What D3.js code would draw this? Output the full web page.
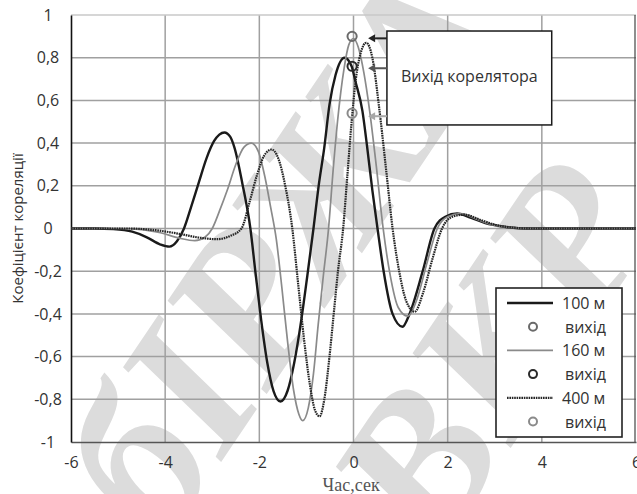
<!DOCTYPE html>
<html>
<head>
<meta charset="utf-8">
<script src="https://cdn.jsdelivr.net/npm/d3@7"></script>
<style>
  body { margin: 0; background: #fff; }
  svg { display: block; }
</style>
</head>
<body>
<svg id="chart" width="637" height="494"></svg>
<script>
// Correlation coefficient vs time lag, three ranges
const time100 = [-6,-5.5,-5.1,-4.7,-4.4,-4.1,-3.91,-3.75,-3.6,-3.45,-3.28,-3.12,-2.96,-2.85,-2.74,-2.62,-2.53,-2.36,-2.19,-2.08,-1.96,-1.83,-1.7,-1.55,-1.4,-1.26,-1.11,-0.98,-0.85,-0.74,-0.62,-0.51,-0.38,-0.19,-0.04,0.04,0.19,0.28,0.4,0.51,0.64,0.83,1.04,1.19,1.47,1.72,1.95,2.2,2.5,2.8,3.2,3.7,6];
const corr100 = [0,0,-0.003,-0.015,-0.04,-0.075,-0.085,-0.06,0,0.1,0.22,0.33,0.41,0.44,0.45,0.43,0.38,0.21,0,-0.21,-0.43,-0.63,-0.76,-0.81,-0.76,-0.63,-0.43,-0.22,0,0.2,0.38,0.58,0.72,0.8,0.76,0.69,0.55,0.4,0.18,0,-0.2,-0.4,-0.46,-0.4,-0.2,0,0.055,0.07,0.05,0.025,0.008,0,0];

const time160 = [-6,-5,-4.5,-4.1,-3.7,-3.37,-3.15,-3.0,-2.85,-2.68,-2.5,-2.33,-2.17,-2.02,-1.88,-1.76,-1.64,-1.52,-1.4,-1.27,-1.16,-1.08,-0.96,-0.85,-0.75,-0.64,-0.53,-0.43,-0.34,-0.2,-0.1,0,0.1,0.22,0.34,0.48,0.63,0.78,0.95,1.15,1.35,1.55,1.78,2.0,2.28,2.6,2.9,3.3,3.75,6];
const corr160 = [0,0,-0.005,-0.02,-0.045,-0.057,-0.04,0,0.08,0.18,0.3,0.38,0.4,0.36,0.24,0.1,-0.05,-0.28,-0.53,-0.76,-0.87,-0.9,-0.84,-0.68,-0.45,-0.22,0,0.28,0.5,0.75,0.86,0.89,0.85,0.73,0.556,0.3,0,-0.22,-0.37,-0.41,-0.33,-0.17,0,0.055,0.07,0.045,0.02,0.005,0,0];

const time400 = [-6,-4.8,-4.2,-3.7,-3.3,-2.9,-2.62,-2.38,-2.2,-2.05,-1.9,-1.74,-1.6,-1.45,-1.3,-1.18,-1.05,-0.92,-0.82,-0.72,-0.62,-0.51,-0.42,-0.33,-0.22,-0.13,-0.04,0.05,0.15,0.27,0.4,0.55,0.7,0.83,0.97,1.12,1.3,1.48,1.68,1.88,2.1,2.35,2.7,3.0,3.4,3.8,6];
const corr400 = [0,0,-0.008,-0.025,-0.042,-0.05,-0.035,0,0.13,0.25,0.34,0.37,0.33,0.2,0,-0.25,-0.52,-0.74,-0.85,-0.88,-0.8,-0.6,-0.4,-0.2,0,0.25,0.5,0.7,0.82,0.87,0.8,0.556,0.26,0,-0.2,-0.34,-0.39,-0.3,-0.14,0,0.055,0.065,0.04,0.018,0.004,0,0];

// correlator output at zero lag
const outputTime = [-0.03, -0.03, -0.03];
const outputValue = [0.9, 0.76, 0.54];

const seriesNames = ["100 м", "160 м", "400 м"];
const outputName = "вихід";
const xTicks = [-6, -4, -2, 0, 2, 4, 6];
const yTicks = [-1, -0.8, -0.6, -0.4, -0.2, 0, 0.2, 0.4, 0.6, 0.8, 1];
const xTitle = "Час,сек";
const yTitle = "Коефіцієнт кореляції";
const noteText = "Вихід корелятора";
const watermark = ["бІРЖА", "ВКР"];

const svg = d3.select("#chart");
const x = d3.scaleLinear().domain([-6, 6]).range([71, 636]);
const y = d3.scaleLinear().domain([-1, 1]).range([442, 15]);

const sans = "'Open Sans', 'Liberation Sans', sans-serif";
const serif = "'Liberation Serif', 'DejaVu Serif', serif";

// faint background lettering
const wm = svg.append("g").attr("fill", "#dcdcdc")
  .attr("font-family", serif).attr("font-style", "italic").attr("font-weight", "bold")
  .attr("font-size", 205);
wm.append("text").attr("transform", "translate(165,545) rotate(-56)").text(watermark[0]);
wm.append("text").attr("transform", "translate(435,560) rotate(-56)").text(watermark[1]);

// grid
const grid = svg.append("g").attr("stroke", "#a0a0a0").attr("stroke-width", 1.5);
grid.selectAll("line.v").data(xTicks.filter(d => d > -6 && d < 6)).join("line")
  .attr("x1", d => x(d)).attr("x2", d => x(d)).attr("y1", y(1)).attr("y2", y(-1));
grid.selectAll("line.h").data(yTicks.filter(d => d > -1)).join("line")
  .attr("x1", x(-6)).attr("x2", x(6)).attr("y1", d => y(d)).attr("y2", d => y(d))
  .attr("stroke", d => d === 1 ? "#c8c8c8" : null);

// axes
const xAxis = d3.axisBottom(x).tickValues(xTicks).tickSize(0).tickPadding(15)
  .tickFormat(d => d3.format("d")(d).replace("−", "-"));
const gx = svg.append("g").attr("transform", `translate(0,${y(-1)})`).call(xAxis);
gx.select(".domain").attr("stroke", "#555").attr("stroke-width", 1.5);
gx.selectAll("text").attr("font-family", sans).attr("font-size", 16).attr("fill", "#333");

const yAxis = d3.axisLeft(y).tickValues(yTicks).tickSize(0).tickPadding(0)
  .tickFormat(d => d3.format("~g")(d).replace("−", "-").replace(".", ","));
const gy = svg.append("g").attr("transform", `translate(${x(-6)},0)`).call(yAxis);
gy.select(".domain").attr("stroke", "#111").attr("stroke-width", 1.6);
gy.selectAll("text").attr("font-family", sans).attr("font-size", 16).attr("fill", "#333")
  .attr("text-anchor", "middle").attr("x", -23);

// right frame
svg.append("line").attr("x1", x(6) - 1).attr("x2", x(6) - 1).attr("y1", y(1)).attr("y2", y(-1))
  .attr("stroke", "#444").attr("stroke-width", 1.2);

// titles
svg.append("text").attr("transform", `translate(23,${y(0)}) rotate(-90)`)
  .attr("text-anchor", "middle").attr("font-family", sans).attr("font-size", 15)
  .attr("fill", "#333").text(yTitle);
svg.append("text").attr("x", x(-0.05)).attr("y", 491).attr("text-anchor", "middle")
  .attr("font-family", serif).attr("font-size", 18).attr("fill", "#555").text(xTitle);

// curves
const line = d3.line().x(d => x(d[0])).y(d => y(d[1])).curve(d3.curveMonotoneX);
const seriesData = [
  d3.zip(time100, corr100),
  d3.zip(time160, corr160),
  d3.zip(time400, corr400)
];
const lineStyle = [
  { stroke: "#1a1a1a", width: 2.4, dash: null },
  { stroke: "#8a8a8a", width: 1.7, dash: null },
  { stroke: "#262626", width: 2.2, dash: "1.6,0.8" }
];
const circleColor = ["#6a6a6a", "#2a2a2a", "#8a8a8a"];
const arrowColor = ["#222", "#555", "#a8a8a8"];

svg.append("g").selectAll("path").data(seriesData).join("path")
  .attr("d", line).attr("fill", "none")
  .attr("stroke", (d, i) => lineStyle[i].stroke)
  .attr("stroke-width", (d, i) => lineStyle[i].width)
  .attr("stroke-dasharray", (d, i) => lineStyle[i].dash);

// correlator output markers
svg.append("g").selectAll("circle").data(outputValue).join("circle")
  .attr("cx", (d, i) => x(outputTime[i])).attr("cy", d => y(d)).attr("r", 4.6)
  .attr("fill", "none").attr("stroke", (d, i) => circleColor[i]).attr("stroke-width", 2);

// note box with arrows
const boxL = x(0.71), boxR = x(4.21), boxT = y(0.925), boxB = y(0.485);
svg.append("rect").attr("x", boxL).attr("y", boxT).attr("width", boxR - boxL).attr("height", boxB - boxT)
  .attr("fill", "#fff").attr("stroke", "#1a1a1a").attr("stroke-width", 1.5);
svg.append("text").attr("x", (boxL + boxR) / 2).attr("y", y(0.715) + 6).attr("text-anchor", "middle")
  .attr("font-family", sans).attr("font-size", 16).attr("fill", "#333").text(noteText);

const arrows = svg.append("g");
outputValue.forEach((v, i) => {
  const yy = y(v) + (i === 2 ? 3 : 2);
  const tip = x(0.31);
  arrows.append("line").attr("x1", boxL).attr("x2", tip + 4).attr("y1", yy).attr("y2", yy)
    .attr("stroke", arrowColor[i]).attr("stroke-width", 2);
  arrows.append("path").attr("d", `M${tip},${yy} l7,-4 l0,8 z`).attr("fill", arrowColor[i]);
});

// legend
const lg = svg.append("g");
const lgL = 496, lgT = 288, lgW = 126, lgH = 149, rowH = 23.7;
lg.append("rect").attr("x", lgL).attr("y", lgT).attr("width", lgW).attr("height", lgH)
  .attr("fill", "#fff").attr("stroke", "#222").attr("stroke-width", 1.6);
seriesNames.forEach((name, i) => {
  const r1 = lgT + 15 + rowH * 2 * i, r2 = r1 + rowH;
  lg.append("line").attr("x1", lgL + 11).attr("x2", lgL + 57).attr("y1", r1).attr("y2", r1)
    .attr("stroke", lineStyle[i].stroke).attr("stroke-width", lineStyle[i].width)
    .attr("stroke-dasharray", lineStyle[i].dash);
  lg.append("text").attr("x", lgL + 66).attr("y", r1 + 6).attr("font-family", sans)
    .attr("font-size", 16).attr("fill", "#333").text(name);
  lg.append("circle").attr("cx", lgL + 37).attr("cy", r2).attr("r", 4)
    .attr("fill", "none").attr("stroke", circleColor[i]).attr("stroke-width", 2);
  lg.append("text").attr("x", lgL + 69).attr("y", r2 + 6).attr("font-family", sans)
    .attr("font-size", 16).attr("fill", "#333").text(outputName);
});
</script>
</body>
</html>
